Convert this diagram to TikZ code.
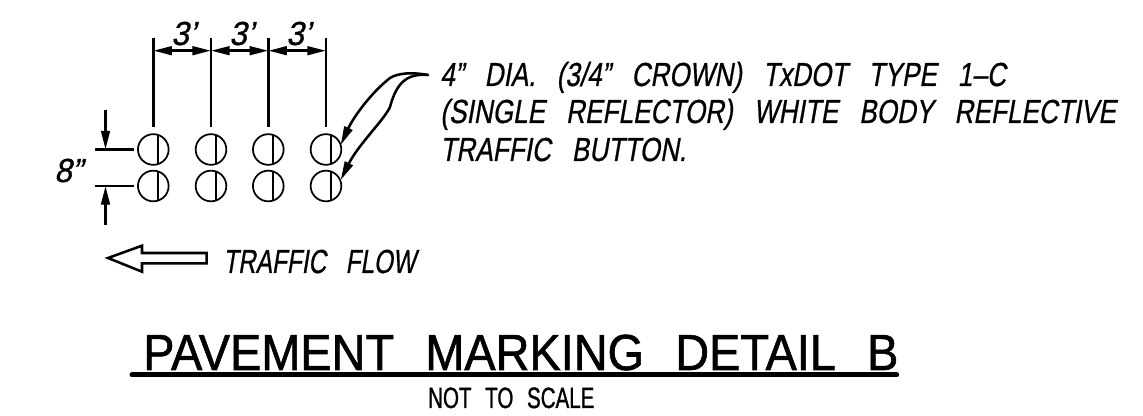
\documentclass[tikz,border=0pt]{standalone}
\usepackage{fontspec}
\setmainfont{Liberation Sans}
\newfontfamily\cadslant{Liberation Sans}[Ligatures=TeX,FakeSlant=0.22,FakeBold=0.8,WordSpace=2.9]
\newfontfamily\cadplain{Liberation Sans}[Ligatures=TeX,FakeBold=1.2,WordSpace=2.4]
\usetikzlibrary{arrows.meta,calc,positioning}
\begin{document}
\begin{tikzpicture}[x=0.75pt,y=-0.75pt,>={Triangle[length=14pt,width=6.5pt]}]

    \tikzstyle{button}=[circle, draw=black, line width=1.3pt, minimum size=23pt, inner sep=0pt,
        path picture={\draw[line width=1.1pt] ([xshift=3.6pt]path picture bounding box.north) -- ([xshift=3.6pt]path picture bounding box.south);}]
    \tikzstyle{dimline}=[line width=1.9pt]
    \tikzstyle{leader}=[line width=1.9pt, line cap=round]
    \tikzstyle{note}=[inner sep=0pt, anchor=base west, font=\cadslant\fontsize{25}{25}\selectfont, xscale=0.785, transform shape]
    \tikzstyle{dimtext}=[inner sep=0pt, anchor=base west, font=\cadslant\fontsize{25}{25}\selectfont, xscale=0.95, transform shape]

    \useasboundingbox (0,0) rectangle (1143,416);

    % Buttons
    \foreach \col/\xpos in {1/153.3, 2/211, 3/268.3, 4/326} {
        \node at (\xpos, 149.5) [button] (top\col) {};
        \node at (\xpos, 186)   [button] (bot\col) {};
        \coordinate (ext\col) at (\xpos, 38);
        \coordinate (dim\col) at (\xpos, 50.7);
        \draw[dimline] (ext\col) -- ($(top\col.north)+(0,-6)$);
    }

    % Spacing dimensions
    \draw[dimline,<->] (dim1) -- (dim2);
    \draw[dimline,<->] (dim2) -- (dim3);
    \draw[dimline,<->] (dim3) -- (dim4);
    \node at (171, 45) [dimtext] (spA) {3'};
    \node at (229, 45) [dimtext] (spB) {3'};
    \node at (286, 45) [dimtext] (spC) {3'};

    % Row dimension
    \coordinate (rowA) at (95, 149.5);
    \coordinate (rowB) at (95, 186);
    \coordinate (rowAin) at (105.5, 149.5);
    \coordinate (rowBin) at (105.5, 186);
    \coordinate (rowAout) at (105.5, 110);
    \coordinate (rowBout) at (105.5, 225);
    \draw[dimline,shorten >=2pt] (rowA) -- (top1);
    \draw[dimline,shorten >=2pt] (rowB) -- (bot1);
    \draw[dimline,->] (rowAout) -- (rowAin);
    \draw[dimline,->] (rowBout) -- (rowBin);
    \node at (54, 182) [dimtext] (rowText) {8"};

    % Note and leaders
    \coordinate (noteEnd) at (428, 75);
    \coordinate (targetA) at (340.7, 145);
    \coordinate (targetB) at (340.7, 180);
    \draw[leader,->] (noteEnd) .. controls (412, 72) and (398, 73) .. (390, 78)
        .. controls (372, 92) and (354, 116) .. (targetA);
    \draw[leader,->] (noteEnd) .. controls (405, 73) and (396, 85) .. (390, 107)
        .. controls (384, 120) and (358, 145) .. (targetB);
    \node at (440, 86)  [note] (noteA) {4" DIA. (3/4" CROWN) TxDOT TYPE 1--C};
    \node at (440, 123) [note] (noteB) {(SINGLE REFLECTOR) WHITE BODY REFLECTIVE};
    \node at (440, 161) [note] (noteC) {TRAFFIC BUTTON.};

    % Traffic flow
    \draw[line width=1.9pt] (108, 258) -- (142, 245.7) -- (142, 253) -- (206.7, 253) -- (206.7, 263.3) -- (142, 263.3) -- (142, 271.7) -- cycle;
    \node at (223, 273) [note, xscale=0.93] (flow) {TRAFFIC FLOW};

    % Title
    \node at (143, 370) [inner sep=0pt, anchor=base west, font=\cadplain\fontsize{38}{38}\selectfont, xscale=0.925, transform shape] (title) {PAVEMENT MARKING DETAIL B};
    \draw[line width=3.75pt, line cap=round] ($(title.base west)+(-11,5)$) -- ($(title.base east)+(-2,5)$);
    \node at (428, 408) [inner sep=0pt, anchor=base west, font=\cadplain\fontsize{22}{22}\selectfont, xscale=0.7, transform shape] (scaleNote) {NOT TO SCALE};
\end{tikzpicture}
\end{document}
